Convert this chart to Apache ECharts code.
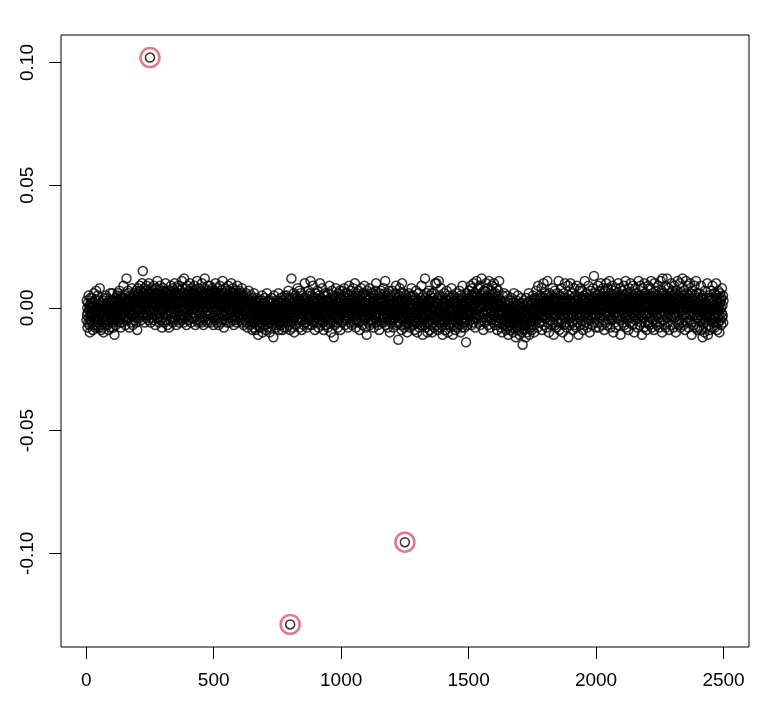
<!DOCTYPE html>
<html>
<head>
<meta charset="utf-8">
<script src="https://cdn.jsdelivr.net/npm/echarts@6/dist/echarts.min.js"></script>
<style>
  html, body { margin: 0; padding: 0; background: #fff; }
  #chart { width: 781px; height: 715px; }
</style>
</head>
<body>
<div id="chart"></div>
<script>
// values in thousandths, one per index (1..2500)
const band1 = [
  -5,3,-3,0,-8,-2,2,-6,5,-4,-1,-7,1,-10,0,4,-3,-5,2,-2,
  0,-6,4,-3,-2,-9,1,-1,-7,6,-4,2,-5,-2,3,-8,-1,-4,7,-5,
  -7,-1,1,-4,5,-6,-2,3,-3,-8,0,-5,8,-3,2,-7,-2,1,-9,0,
  2,-4,-8,-1,3,-5,0,-10,-2,1,-3,4,-6,0,-7,-1,5,-4,-5,2,
  -2,4,-5,-7,0,2,-3,-9,3,-1,-6,1,-4,6,-8,-2,0,-5,3,-3,
  -4,1,6,-6,-1,-8,3,-2,-5,0,-11,2,-1,-3,4,-7,1,-4,-2,2,
  5,-1,-4,6,-2,0,3,-5,1,7,-3,2,-6,4,-1,-8,2,5,-3,1,
  -6,2,4,-1,-3,9,0,-4,3,-2,5,-5,1,-7,2,3,-1,12,-4,0,
  3,-5,1,7,-2,-4,6,2,-8,0,4,-1,-3,5,-6,1,3,-2,8,-3,
  1,4,-7,2,-3,5,-1,0,6,-5,2,-2,-4,3,7,-6,0,4,-1,-9,
  5,-1,8,2,-3,6,0,3,-4,9,1,-2,4,7,-5,2,5,-1,10,0,
  3,15,-2,6,4,-3,1,8,-6,2,5,-1,7,0,-4,3,9,-2,4,1,
  -3,6,2,-5,4,10,-1,3,7,0,-2,5,-6,2,8,-4,1,6,-3,4,
  7,-2,3,0,9,-5,2,5,-1,4,-7,6,1,-3,8,2,-4,3,11,-1,
  0,5,-4,7,2,-6,4,1,-2,9,3,-5,6,0,-1,4,-8,5,2,7,
  -4,3,8,-1,5,0,-6,6,2,-3,10,1,4,-5,7,-2,3,0,-7,5,
  6,-3,1,4,-8,3,7,-1,2,-5,5,9,-2,4,0,-4,6,2,-6,8,
  1,4,-5,7,-2,3,10,-4,5,0,-3,6,2,-7,4,8,-1,3,-5,6,
  9,-2,4,0,-6,5,2,-3,7,1,-4,6,-1,3,11,-5,2,8,0,-3,
  4,-6,6,12,-1,3,-4,5,0,8,-2,2,-7,4,6,-3,1,9,-5,3,
  -1,7,2,-5,4,0,10,-3,5,2,-6,3,8,-1,4,-4,6,1,-2,7,
  3,-4,5,9,-2,6,0,-7,4,2,-3,7,1,-5,11,3,-1,5,-6,2,
  8,0,-3,4,6,-5,2,7,-2,3,-6,5,1,10,-4,2,6,-1,4,-7,
  2,5,-4,8,12,-2,3,0,6,-5,4,1,-3,7,2,-6,5,9,-1,3,
  -5,6,2,-2,9,4,-3,1,7,-6,3,5,0,-4,8,2,-1,4,-7,6
]
const band2 = [
  3,-4,7,1,-2,5,10,-5,2,6,-1,4,-6,8,0,3,-3,6,1,-7,
  5,2,-4,9,-1,3,6,-6,1,4,-2,7,0,-5,11,2,-3,5,1,-8,
  4,-1,6,-3,2,8,-5,3,0,5,-2,7,-6,2,4,-4,9,1,-1,6,
  -3,5,2,-6,7,1,-2,4,10,-4,3,0,6,-5,2,8,-1,3,-7,5,
  2,6,-3,1,-5,4,7,0,-2,5,-6,3,9,-1,2,-4,6,1,-3,4,
  7,-2,3,-5,5,0,-1,6,-4,2,8,-6,1,4,-3,3,-7,5,2,-1,
  -1,4,-5,2,0,-3,6,-6,1,3,-2,-8,5,0,-4,2,7,-1,-5,3,
  -4,2,-1,-7,3,-3,0,5,-6,1,-2,-9,4,-1,-5,2,-3,6,-8,0,
  -6,1,-3,3,-9,-1,2,-5,-2,4,-7,0,-4,-11,1,-2,-6,3,-3,-8,
  0,-5,-2,-8,3,-4,1,-6,-1,5,-3,-10,-2,2,-7,-4,0,-1,-5,4,
  -3,2,-7,-1,-4,-9,1,-2,6,-5,-3,0,-8,-1,3,-6,-2,-4,2,-10,
  -5,-1,3,-6,-2,0,-8,4,-3,-1,-7,2,-4,-12,0,-2,5,-5,-3,1,
  -1,-6,2,-3,-8,0,-4,3,-2,-7,1,-5,-1,6,-3,-9,0,-2,-6,2,
  -4,0,-7,4,-2,-5,1,-3,-9,2,-1,-6,3,-4,0,-8,-2,5,-3,-1,
  2,-5,4,-3,-8,1,-1,5,-6,0,3,-4,7,-2,-7,1,-3,4,-9,0,
  -4,3,-1,-6,12,-2,1,-5,4,-8,0,2,-3,6,-1,-10,3,-4,1,-2,
  5,-3,-7,2,-1,4,-5,0,8,-4,1,-2,-6,3,-1,7,-8,0,2,-5,
  -2,6,-4,1,-9,3,-1,-5,2,5,-3,0,-7,4,-2,1,10,-6,-1,3,
  -6,0,4,-3,2,-8,5,-1,-4,1,-2,7,-5,0,3,-7,-1,6,-3,11,
  1,-4,-1,5,-7,2,-3,0,9,-5,3,-2,-6,4,-1,1,-9,2,-4,6,
  -3,4,-6,0,2,-2,7,-4,-1,3,-8,1,5,-3,0,-5,10,-2,-7,2,
  4,-1,-5,3,-3,8,-2,0,-6,2,-9,5,-1,1,-4,6,-3,-7,3,0,
  -2,5,-7,1,-1,-4,3,-8,6,0,-3,2,-5,9,-1,-2,4,-6,1,-10,
  3,-5,0,7,-3,-1,2,-6,4,-2,-12,1,5,-4,0,-7,3,-1,8,-3,
  -1,2,-6,4,-4,1,-8,3,-2,6,-5,0,2,-3,7,-1,-9,4,-2,1
]
const band3 = [
  4,-3,1,-6,7,0,-2,5,-5,2,-1,8,-4,3,-7,1,6,-2,0,-3,
  -5,2,6,-1,-3,4,-8,0,3,-4,9,1,-2,5,-6,2,-1,7,-3,0,
  1,-7,3,5,-2,-4,8,-1,2,-6,0,4,-3,10,-5,1,3,-8,2,-1,
  6,-2,-5,0,4,-3,1,7,-6,2,-1,-9,3,5,-4,0,2,-2,8,-5,
  -3,5,1,-7,3,0,-4,6,-1,-2,9,-5,2,-3,4,1,-8,5,-1,-11,
  2,-4,7,-1,0,-6,3,5,-3,1,-2,8,-7,2,4,-1,-5,0,6,-2,
  -6,3,0,-2,6,-5,1,-8,4,2,-3,5,-1,-4,7,0,10,-3,-6,3,
  1,-2,5,-7,2,0,-4,3,-9,6,-1,2,-5,4,0,-3,7,-1,3,-6,
  4,-5,-1,3,-3,8,-6,1,2,-4,0,6,11,-2,3,-7,1,-1,5,-4,
  -2,6,-8,0,4,-1,-3,7,-5,2,-10,1,3,-2,5,-6,0,4,-4,2,
  7,-3,1,-5,-8,3,-1,5,-4,2,0,-6,6,-2,9,-1,3,-7,1,-3,
  -1,4,-6,-13,2,-3,5,0,-4,8,-2,1,-7,3,-1,6,-9,2,10,-4,
  3,-5,1,-2,6,-3,0,-8,4,0,-4,2,-7,5,-6,-1,3,-3,-10,4,
  -2,3,-6,1,-4,6,-5,0,-1,-8,2,-3,5,-7,-2,8,-4,1,-6,3,
  -3,0,5,-7,1,-5,3,-9,2,-2,-6,4,-1,7,-4,-3,1,-10,3,-1,
  2,-6,-2,6,-4,0,-8,3,-5,1,4,-7,0,-3,9,-1,-6,2,-4,-11,
  3,-2,-5,5,-3,1,-7,2,12,-4,0,4,-8,1,-3,6,-6,-1,-10,3,
  -5,1,-2,7,-6,3,-3,-9,2,-1,5,-7,0,-4,6,-2,-10,2,-3,4,
  -6,1,6,-3,-1,-8,3,-4,10,0,-5,2,-3,10,-7,1,-4,4,-2,-9,
  2,-4,11,-6,0,-2,5,-8,-1,3,-5,8,-3,-7,1,4,-2,-11,2,-3,
  -5,3,-1,6,-6,0,-3,-9,4,-2,2,-7,-4,7,1,-5,-1,3,-10,-3,
  0,5,-4,-2,-7,3,-3,2,-8,4,-1,-6,8,0,-3,-5,2,-11,-1,5,
  -3,-7,2,-1,4,-5,1,-9,3,-4,6,-6,-2,1,-8,4,-3,2,-5,-1,
  3,-4,-2,7,-7,0,-3,5,-10,2,-1,-5,3,-8,1,9,-3,-6,2,-2,
  -4,4,-1,-8,1,3,-6,2,-3,-14,6,-2,-5,0,5,-7,-3,2,-1,4
]
const band4 = [
  3,-2,7,-1,4,-5,2,9,-3,5,0,-7,3,8,1,-2,5,-6,10,0,
  -1,6,-4,4,1,-8,3,6,-2,2,11,-4,5,-1,3,-3,8,0,-6,4,
  0,3,-3,9,4,-7,2,5,-4,1,12,2,-5,6,0,-2,4,-9,3,7,
  -3,4,1,-6,7,-1,3,-4,10,2,-5,5,-1,8,-2,3,-7,4,0,11,
  1,-4,5,2,-8,4,3,-2,7,-1,-5,9,0,-3,6,2,-6,1,10,-2,
  4,-3,3,-7,6,0,2,-5,8,-4,3,-9,1,5,-2,7,-6,2,-3,11,
  -3,-6,1,-4,3,-8,-1,-5,2,-2,-10,1,-3,5,-7,0,-2,-5,6,-4,
  -5,0,-7,-1,3,-6,-3,-9,1,-4,-1,5,-8,-2,0,-11,-4,2,-6,-3,
  -1,-7,3,-4,-9,0,-3,-6,4,-2,-8,-4,2,-1,-10,-5,1,6,-4,-2,
  -7,-2,2,-5,-12,-1,-4,3,-8,0,-3,-6,5,-9,-1,-4,-7,1,-2,-11,
  -4,2,-6,-1,-8,-3,4,-7,-10,0,-2,-15,-5,2,-6,-1,-9,3,-4,-7,
  -1,-6,1,-12,-3,4,-7,-4,-1,-10,2,-2,-8,-5,0,6,-4,-11,-1,-3,
  -6,1,-3,-8,3,-4,-1,-9,2,-5,-2,5,-7,-1,-4,0,-10,-2,4,-1,
  2,-4,3,-1,7,-5,0,-3,4,-8,1,-2,9,-4,0,3,-6,2,-3,5,
  -2,1,-6,4,-3,8,1,-9,0,3,-4,2,-1,10,-7,0,4,-3,-1,6,
  -4,2,-1,5,0,-8,3,-2,11,-1,0,-6,4,1,-10,3,-2,6,-5,1,
  3,-3,-7,1,5,-1,0,-4,8,-6,2,-2,4,-11,0,3,-3,7,-1,-7,
  1,4,-3,0,-8,3,-1,6,-5,2,0,-6,11,-1,3,-9,1,-3,5,0,
  -5,3,-1,8,-6,0,2,-3,-10,4,-1,1,6,-7,3,-4,2,10,-2,0,
  -6,2,-2,4,-8,3,0,-3,9,-4,1,-12,0,5,-1,3,-7,2,-3,10,
  0,-4,3,-2,6,-6,1,0,-9,4,-3,2,8,-1,-7,3,0,-5,5,-1,
  3,-8,1,-3,9,0,-2,4,-6,1,-11,3,-1,7,0,-4,2,-3,8,-7,
  1,-2,4,-5,0,7,-3,3,-9,1,5,-1,0,-7,3,11,-3,-2,4,-6,
  0,6,-4,2,-2,-8,3,0,-3,9,1,-5,4,-1,-10,3,0,7,-4,2,
  -3,5,0,-7,2,4,-2,8,-4,3,0,13,-6,1,-3,6,-1,-8,3,0
]
const band5 = [
  2,-3,5,-1,4,-6,3,9,-2,1,-8,4,0,7,3,-4,1,10,-3,5,
  -1,3,-7,4,2,-2,8,-5,3,0,6,-9,1,4,-3,7,2,-6,3,10,
  -2,4,0,-7,3,8,-3,1,5,-5,0,11,2,-2,4,-8,3,6,-4,1,
  5,-5,1,9,-1,-3,4,-10,3,1,7,-2,0,-6,4,2,-8,8,1,-2,
  3,6,-4,0,5,-2,10,-7,1,4,-3,0,8,-5,2,-11,1,5,-1,4,
  -3,2,7,-1,-6,4,1,-2,9,-7,3,0,5,-4,1,11,-3,4,-8,2,
  6,-2,3,-5,0,5,-9,2,1,8,-3,4,-1,-6,3,10,0,-4,6,1,
  -2,4,-7,3,9,0,-3,5,1,-10,4,-2,2,8,-5,1,-1,6,-3,4,
  1,-8,5,0,3,-4,11,1,-2,4,-7,3,0,9,-3,5,-6,1,4,-11,
  3,-1,8,-4,1,-2,5,-8,4,10,-3,2,0,-6,6,2,-2,4,-9,1,
  5,-3,2,9,-6,0,4,-2,1,-7,8,3,-4,0,5,11,-1,2,-8,4,
  1,-5,6,-1,-2,4,-9,3,10,-3,2,5,-6,0,7,-1,3,-7,4,1,
  -3,5,0,9,-4,3,1,-8,6,-2,4,0,-6,11,2,-3,1,7,-10,4,
  12,0,-5,3,6,-2,5,-7,1,4,-3,9,0,-8,2,5,-1,12,-4,2,
  4,-6,3,8,-2,0,-9,4,1,6,-3,5,-7,0,10,2,-4,1,-1,7,
  -3,4,0,-8,5,1,9,-4,2,-2,6,0,-10,4,1,-3,7,2,-6,11,
  1,-2,5,-7,3,0,4,-5,10,1,-8,3,6,-1,0,5,-6,2,12,-3,
  4,-1,-7,7,1,-3,5,2,-9,1,4,-2,11,0,-4,6,2,-6,1,9,
  -2,3,-8,5,0,4,-5,1,10,-3,6,0,-6,2,-11,4,1,7,-2,3,
  0,-7,4,1,-3,9,-1,5,-8,2,0,11,-4,1,6,-3,-9,4,1,-2,
  -4,2,-1,6,-8,0,3,-5,1,-3,9,-1,-9,4,0,-4,1,-12,5,-2,
  0,-6,4,-1,-10,2,-3,7,-5,0,1,-8,-2,4,-4,10,-3,0,-11,3,
  -2,5,-7,1,-3,-9,4,0,-4,7,-1,3,-8,0,-5,1,9,-3,-1,-6,
  3,-4,0,6,-8,1,-3,-1,5,-6,10,0,-2,4,-9,2,-1,-4,7,-6,
  0,4,-3,-10,2,-1,6,-5,3,0,-7,4,-2,8,-4,1,-3,5,-6,3
]

// the three points circled in red
const outlierIndex = [250, 800, 1250]
const outlierValue = [0.102, -0.129, -0.0955]

const xTicks = [0, 500, 1000, 1500, 2000, 2500]
const yTicks = [-0.1, -0.05, 0, 0.05, 0.1]

const points = [].concat(band1, band2, band3, band4, band5).map((v, i) => [i + 1, v / 1000])
outlierIndex.forEach((idx, k) => {
  points[idx - 1][1] = outlierValue[k]
})
const circled = outlierIndex.map((idx, k) => [idx, outlierValue[k]])

const labelFont = {
  color: '#000',
  fontSize: 19,
  fontFamily: 'Liberation Sans, Arial, sans-serif',
}

const tickStyle = { color: '#000', width: 1 }

const chart = echarts.init(document.getElementById('chart'), null, { renderer: 'canvas' })

chart.setOption({
  animation: false,
  backgroundColor: '#fff',
  grid: {
    left: 61,
    right: 32,
    top: 35,
    bottom: 68,
    show: true,
    borderColor: '#000',
    borderWidth: 1,
    backgroundColor: 'transparent',
  },
  xAxis: {
    type: 'value',
    min: -99,
    max: 2600,
    axisLine: { show: false, onZero: false },
    splitLine: { show: false },
    axisTick: {
      show: true,
      inside: false,
      length: 12,
      customValues: xTicks,
      lineStyle: tickStyle,
    },
    axisLabel: {
      ...labelFont,
      margin: 24,
      customValues: xTicks,
      formatter: v => String(v),
    },
  },
  yAxis: {
    type: 'value',
    min: -0.1382,
    max: 0.1112,
    axisLine: { show: false, onZero: false },
    splitLine: { show: false },
    axisTick: {
      show: true,
      inside: false,
      length: 12,
      customValues: yTicks,
      lineStyle: tickStyle,
    },
    axisLabel: {
      ...labelFont,
      rotate: 90,
      margin: 24,
      customValues: yTicks,
      formatter: v => v.toFixed(2),
    },
  },
  series: [
    {
      type: 'scatter',
      data: points,
      symbol: 'circle',
      symbolSize: 9,
      itemStyle: {
        color: 'transparent',
        borderColor: '#000',
        borderWidth: 1.5,
      },
      emphasis: { disabled: true },
      silent: true,
    },
    {
      type: 'scatter',
      data: circled,
      symbol: 'circle',
      symbolSize: 19,
      itemStyle: {
        color: 'transparent',
        borderColor: '#DF536B',
        borderWidth: 2.5,
      },
      emphasis: { disabled: true },
      silent: true,
    },
  ],
})
</script>
</body>
</html>
